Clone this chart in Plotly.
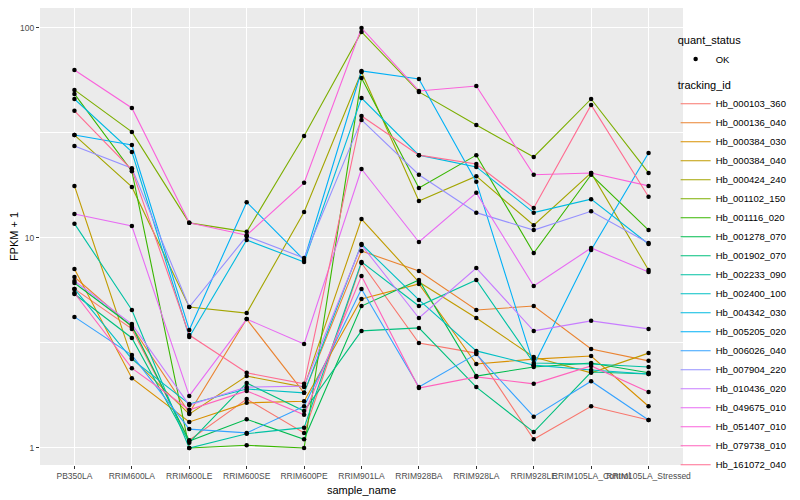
import plotly.graph_objects as go

samples = ["PB350LA", "RRIM600LA", "RRIM600LE", "RRIM600SE", "RRIM600PE", "RRIM901LA",
           "RRIM928BA", "RRIM928LA", "RRIM928LE", "RRIM105LA_Control", "RRIM105LA_Stressed"]

tracking_ids = ["Hb_000103_360", "Hb_000136_040", "Hb_000384_030", "Hb_000384_040", "Hb_000424_240",
                "Hb_001102_150", "Hb_001116_020", "Hb_001278_070", "Hb_001902_070", "Hb_002233_090",
                "Hb_002400_100", "Hb_004342_030", "Hb_005205_020", "Hb_006026_040", "Hb_007904_220",
                "Hb_010436_020", "Hb_049675_010", "Hb_051407_010", "Hb_079738_010", "Hb_161072_040"]

colors = ["#F8766D", "#EA8331", "#D89000", "#C09B00", "#A3A500", "#7CAE00", "#39B600", "#00BB4E",
          "#00BF7D", "#00C1A3", "#00BFC4", "#00BAE0", "#00B0F6", "#35A2FF", "#9590FF", "#C77CFF",
          "#E76BF3", "#FA62DB", "#FF62BC", "#FF6C91"]

# FPKM + 1 values per tracking id, in sample order
Hb_000103_360 = [5.72, 3.69, 1.09, 1.71, 1.18, 7.60, 3.16, 2.83, 1.10, 1.58, 1.36]
Hb_000136_040 = [6.52, 3.77, 1.47, 4.11, 1.83, 8.67, 6.96, 4.54, 4.74, 2.96, 2.60]
Hb_000384_030 = [7.12, 2.15, 1.33, 1.64, 1.67, 5.12, 6.04, 2.51, 2.65, 2.74, 1.58]
Hb_000384_040 = [17.7, 2.68, 1.45, 2.20, 1.95, 12.3, 6.17, 4.16, 2.71, 2.28, 2.83]
Hb_000424_240 = [30.9, 17.5, 4.69, 4.39, 13.3, 61.7, 15.0, 19.7, 11.5, 20.4, 7.04]
Hb_001102_150 = [50.7, 32.0, 11.8, 10.7, 30.6, 95.7, 49.6, 34.5, 24.3, 45.9, 20.4]
Hb_001116_020 = [48.5, 20.8, 1.00, 1.03, 1.00, 57.8, 17.3, 24.8, 8.48, 20.0, 10.9]
Hb_001278_070 = [6.10, 3.81, 1.08, 1.37, 1.10, 4.74, 6.31, 2.20, 2.43, 2.54, 2.28]
Hb_001902_070 = [5.41, 3.34, 1.06, 2.04, 1.50, 3.61, 3.73, 1.95, 1.19, 2.30, 2.25]
Hb_002233_090 = [11.7, 4.54, 1.00, 1.17, 1.25, 7.69, 4.74, 6.31, 2.54, 2.51, 2.43]
Hb_002400_100 = [5.72, 2.65, 1.62, 1.91, 1.83, 9.36, 5.07, 2.90, 2.48, 2.35, 2.25]
Hb_004342_030 = [45.9, 25.7, 3.38, 9.78, 7.69, 46.4, 24.8, 21.8, 13.2, 15.3, 9.36]
Hb_005205_020 = [30.9, 27.7, 3.65, 14.8, 7.86, 62.4, 57.2, 18.5, 2.48, 8.77, 25.4]
Hb_006026_040 = [4.21, 2.77, 1.23, 1.18, 1.58, 5.72, 1.95, 2.80, 1.41, 2.08, 1.36]
Hb_007904_220 = [27.4, 21.5, 4.69, 10.2, 8.03, 36.5, 20.0, 13.2, 10.9, 13.4, 9.46]
Hb_010436_020 = [6.24, 3.89, 1.60, 1.95, 1.97, 9.26, 4.16, 7.19, 3.61, 4.03, 3.69]
Hb_049675_010 = [13.0, 11.4, 1.77, 4.11, 3.13, 21.3, 9.57, 16.4, 5.91, 8.96, 6.89]
Hb_051407_010 = [63.1, 41.6, 11.8, 10.3, 18.3, 100.0, 50.1, 52.9, 20.0, 20.4, 17.7]
Hb_079738_010 = [5.47, 2.40, 1.52, 1.87, 1.44, 6.59, 1.93, 2.18, 2.02, 2.46, 1.85]
Hb_161072_040 = [40.3, 21.1, 3.45, 2.28, 2.02, 38.1, 24.8, 22.5, 13.9, 43.0, 15.7]

series = [Hb_000103_360, Hb_000136_040, Hb_000384_030, Hb_000384_040, Hb_000424_240,
          Hb_001102_150, Hb_001116_020, Hb_001278_070, Hb_001902_070, Hb_002233_090,
          Hb_002400_100, Hb_004342_030, Hb_005205_020, Hb_006026_040, Hb_007904_220,
          Hb_010436_020, Hb_049675_010, Hb_051407_010, Hb_079738_010, Hb_161072_040]

y_ticks = [1, 10, 100]
y_ticktext = ["1", "10", "100"]

FONT = "Liberation Sans, Arial, sans-serif"

fig = go.Figure()

for name, col, vals in zip(tracking_ids, colors, series):
    fig.add_trace(go.Scatter(
        x=samples, y=vals, mode="lines", name=name,
        line=dict(color=col, width=1.1),
        legend="legend2", hoverinfo="skip",
    ))

all_x = []
all_y = []
for vals in series:
    all_x += samples
    all_y += vals
fig.add_trace(go.Scatter(
    x=all_x, y=all_y, mode="markers", name="OK",
    marker=dict(color="black", size=4.5, symbol="circle"),
    legend="legend",
))

# page body has an 8px margin, so the figure is 792x492 to fill the 800x500 window
fig.update_layout(
    width=792, height=492,
    margin=dict(l=32, r=116.5, t=0, b=35, autoexpand=False),
    paper_bgcolor="white",
    plot_bgcolor="#EBEBEB",
    font=dict(family=FONT, color="black"),
    xaxis=dict(
        type="category",
        categoryorder="array", categoryarray=samples,
        range=[-0.6, 10.6],
        showgrid=True, gridcolor="white", gridwidth=1.4,
        ticks="outside", ticklen=3, tickcolor="#333333", tickwidth=1,
        tickangle=0,
        tickfont=dict(size=8.5, color="#4D4D4D", family=FONT),
        title=dict(text="sample_name", font=dict(size=11, color="black"), standoff=6),
        zeroline=False, showline=False,
    ),
    yaxis=dict(
        type="log",
        range=[-0.081, 2.095],
        tickvals=y_ticks, ticktext=y_ticktext,
        showgrid=True, gridcolor="white", gridwidth=1.4,
        minor=dict(tickvals=[3.1623, 31.623], showgrid=True, gridcolor="white", gridwidth=0.6, ticks=""),
        ticks="outside", ticklen=3, tickcolor="#333333", tickwidth=1,
        tickfont=dict(size=8.5, color="#4D4D4D", family=FONT),
        title=dict(text="FPKM + 1", font=dict(size=11, color="black"), standoff=2),
        zeroline=False, showline=False,
    ),
    legend=dict(
        title=dict(text="quant_status", font=dict(size=11)),
        font=dict(size=9.5),
        xref="container", yref="container",
        x=0.843, y=0.955, xanchor="left", yanchor="top",
        bgcolor="rgba(0,0,0,0)",
        itemwidth=30,
    ),
    legend2=dict(
        title=dict(text="tracking_id", font=dict(size=11)),
        font=dict(size=9.5),
        xref="container", yref="container",
        x=0.843, y=0.864, xanchor="left", yanchor="top",
        bgcolor="rgba(0,0,0,0)",
        itemwidth=30,
        tracegroupgap=0,
        maxheight=440,
    ),
    showlegend=True,
)

fig.write_html("out.html")
